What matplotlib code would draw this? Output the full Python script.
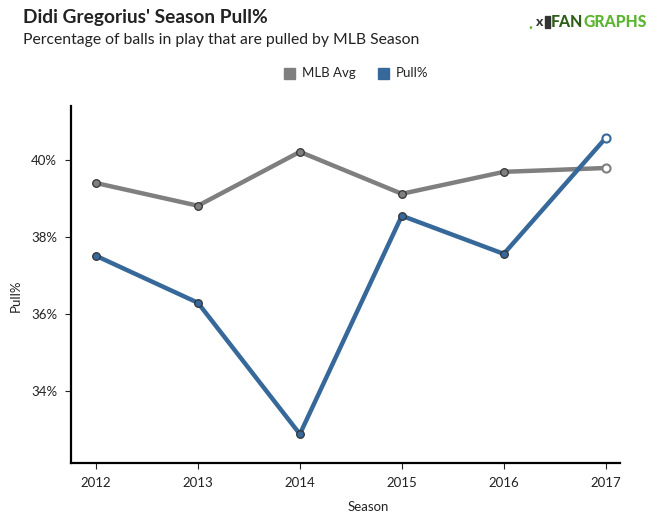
import matplotlib.pyplot as plt
import matplotlib.ticker as mtick
from matplotlib.patches import Rectangle

seasons = [2012, 2013, 2014, 2015, 2016, 2017]
mlb_avg = [39.40, 38.81, 40.21, 39.12, 39.69, 39.79]
pull_pct = [37.51, 36.29, 32.88, 38.55, 37.56, 40.57]
yticks = [34, 36, 38, 40]

gray = '#7f7f7f'
blue = '#36689a'

plt.rcParams['font.family'] = ['Lato', 'DejaVu Sans']

fig = plt.figure(figsize=(6.68, 5.19), dpi=100)
W, H = 668, 519
ax = fig.add_axes([71/W, 1-463/H, (620-71)/W, (463-106)/H])

for vals, col in [(mlb_avg, gray), (pull_pct, blue)]:
    ax.plot(seasons, vals, color=col, lw=3.2, solid_capstyle='round', zorder=2)
    ax.scatter(seasons[:-1], vals[:-1], s=30, color=col, edgecolors='#333333',
               linewidths=0.9, zorder=3)
    ax.scatter(seasons[-1:], vals[-1:], s=34, color='white', edgecolors=col,
               linewidths=1.5, zorder=3)

ax.set_xlim(2011.755, 2017.14)
ax.set_ylim(32.13, 41.4)
ax.set_xticks(seasons)
ax.set_yticks(yticks)
ax.yaxis.set_major_formatter(mtick.FuncFormatter(lambda v, p: '%d%%' % v))
for s in ['top', 'right']:
    ax.spines[s].set_visible(False)
for s in ['left', 'bottom']:
    ax.spines[s].set_linewidth(1.6)
    ax.spines[s].set_color('black')
ax.tick_params(labelsize=9.5, colors='#222222', length=4, width=0.8, pad=6)

fig.text(368/W, 1-507/H, 'Season', ha='center', va='center', fontsize=9.5, color='#222222')
fig.text(16/W, 1-296/H, 'Pull%', ha='center', va='center', rotation=90, fontsize=9.5,
         color='#222222')

fig.text(23/W, 1-18/H, "Didi Gregorius' Season Pull%", fontsize=13.8, fontweight='bold',
         va='center', color='#222222')
fig.text(23/W, 1-40/H, 'Percentage of balls in play that are pulled by MLB Season',
         fontsize=11.3, va='center', color='#222222')

# logo
fig.text(551/W, 1-22/H, 'FAN', fontsize=11.3, fontweight='black', color='#2f5e1a',
         va='center', ha='left')
fig.text(583/W, 1-22/H, 'GRAPHS', fontsize=11.3, fontweight='black', color='#5cb531',
         va='center', ha='left')
fig.text(528/W, 1-24/H, '.', fontsize=11.5, fontweight='black', color='#5cb531',
         va='center', ha='left')
fig.patches.append(Rectangle((545/W, 1-28/H), 2/W, 12/H, transform=fig.transFigure,
                             color='#333333', figure=fig))
fig.patches.append(Rectangle((548/W, 1-28/H), 1.5/W, 12/H, transform=fig.transFigure,
                             color='#333333', figure=fig))
fig.text(535/W, 1-22/H, 'x', fontsize=10, fontweight='black', color='#333333',
         va='center', ha='left')

# legend
for x0, col, lab in [(284, gray, 'MLB Avg'), (378, blue, 'Pull%')]:
    fig.patches.append(Rectangle((x0/W, 1-79/H), 11/W, 11/H, transform=fig.transFigure,
                                 color=col, figure=fig))
    fig.text((x0+18)/W, 1-73/H, lab, fontsize=9.5, va='center', color='#222222')

fig.savefig('out.png', dpi=100)
